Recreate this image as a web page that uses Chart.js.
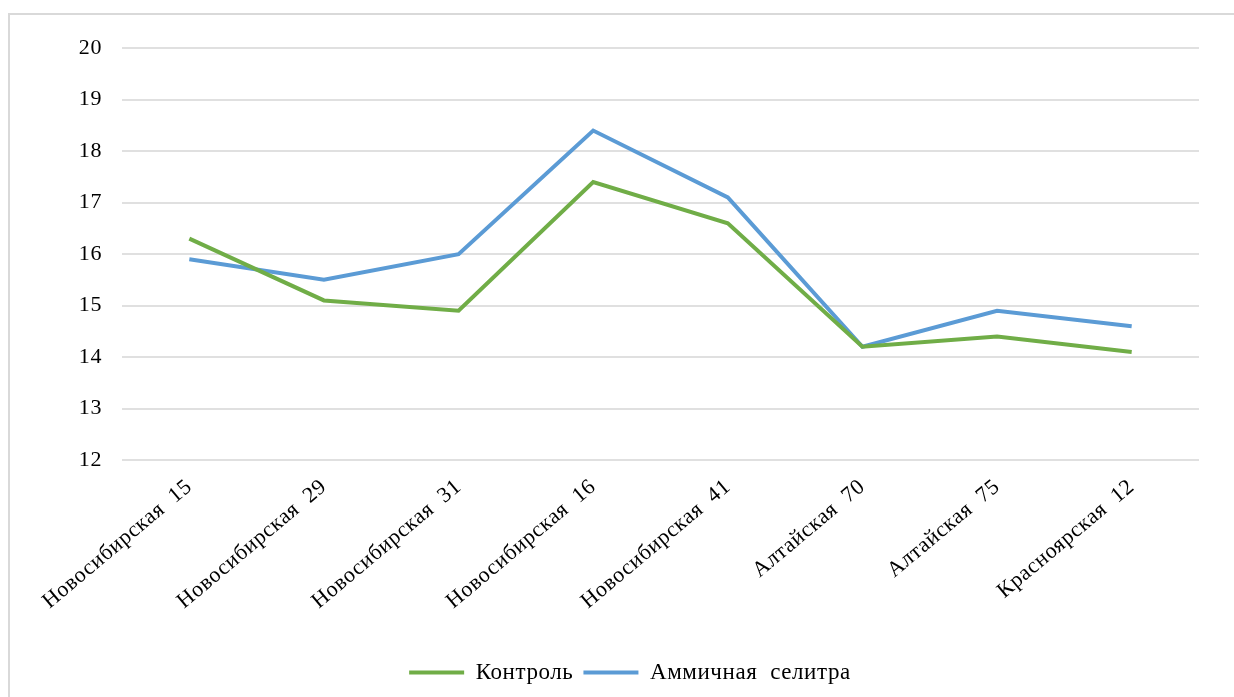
<!DOCTYPE html>
<html>
<head>
<meta charset="utf-8">
<script src="https://cdn.jsdelivr.net/npm/chart.js@4.4.1/dist/chart.umd.min.js"></script>
<style>
  html, body { margin: 0; padding: 0; background: #fff; overflow: hidden; }
  #frame {
    position: absolute; left: 8px; top: 13px;
    width: 1300px; height: 720px;
    border: 2px solid #d9d9d9;
  }
  #box { position: relative; width: 1224px; height: 682px; }
</style>
</head>
<body>
<div id="frame"><div id="box"><canvas id="chart"></canvas></div></div>
<script>
// sorts along the x axis
const varieties = [
    'Новосибирская  15', 'Новосибирская  29', 'Новосибирская  31', 'Новосибирская  16',
    'Новосибирская  41', 'Алтайская  70', 'Алтайская  75', 'Красноярская  12'
];
const control = [16.3, 15.1, 14.9, 17.4, 16.6, 14.2, 14.4, 14.1];
const ammoniumNitrate = [15.9, 15.5, 16.0, 18.4, 17.1, 14.2, 14.9, 14.6];
const yMin = 12;
const yMax = 20;

const fontFamily = "'Liberation Serif', 'Times New Roman', serif";
Chart.defaults.font.family = fontFamily;
Chart.defaults.font.size = 22;
Chart.defaults.color = '#000';

// the text here is set loosely spaced, so widen every label a bit
const letterSpacing = {
    id: 'letterSpacing',
    beforeLayout(chart) { chart.ctx.letterSpacing = '0.6px'; },
    beforeDraw(chart) { chart.ctx.letterSpacing = '0.6px'; }
};

const ctx = document.getElementById('chart');
new Chart(ctx, {
    type: 'line',
    data: {
        labels: varieties,
        datasets: [{
            label: 'Контроль',
            data: control,
            borderColor: '#70ad47',
            backgroundColor: '#70ad47',
            borderWidth: 4,
            pointRadius: 0,
            tension: 0
        }, {
            label: 'Аммичная  селитра',
            data: ammoniumNitrate,
            borderColor: '#5b9bd5',
            backgroundColor: '#5b9bd5',
            borderWidth: 4,
            pointRadius: 0,
            tension: 0
        }]
    },
    plugins: [letterSpacing],
    options: {
        responsive: true,
        maintainAspectRatio: false,
        animation: false,
        // left padding pushes the centred legend right; the y axis is narrowed to match
        layout: { padding: { top: 33, right: 35, bottom: 3, left: 51 } },
        plugins: {
            legend: {
                display: true,
                position: 'bottom',
                labels: {
                    usePointStyle: true,
                    pointStyle: 'line',
                    pointStyleWidth: 55,
                    padding: 10,
                    color: '#000',
                    font: { size: 23 }
                }
            },
            tooltip: { enabled: false }
        },
        scales: {
            x: {
                offset: true,
                grid: { display: false, drawTicks: false },
                border: { display: false },
                ticks: {
                    minRotation: 40,
                    maxRotation: 40,
                    padding: 14,
                    autoSkip: false
                },
                afterFit: (scale) => { scale.height = 191; }
            },
            y: {
                min: yMin,
                max: yMax,
                grid: { color: '#e0e0e0', lineWidth: 2, drawTicks: false },
                border: { display: false },
                ticks: { stepSize: 1, padding: 20 },
                afterFit: (scale) => { scale.width = 61; }
            }
        }
    }
});
</script>
</body>
</html>
